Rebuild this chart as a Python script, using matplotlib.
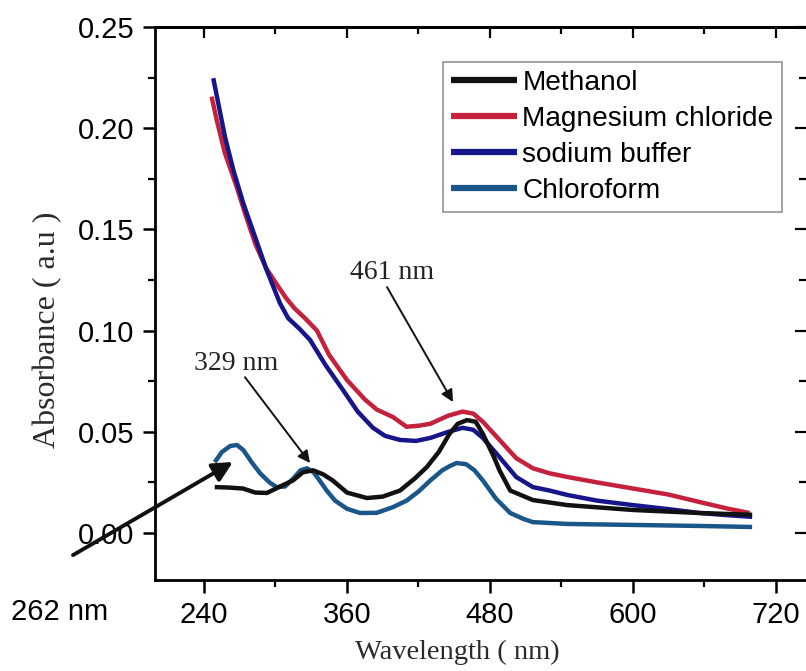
import numpy as np
import matplotlib.pyplot as plt
from matplotlib.ticker import MultipleLocator

# UV-Vis absorbance spectra in four solvents
wl_sodium = [247.8, 252, 257.6, 264.6, 273, 282.8, 292.6, 303.8, 310.7, 320, 329, 342,
             356.6, 369, 381.8, 392, 404.5, 418, 430, 445, 457, 466, 474, 488, 502, 516,
             530, 545, 570, 600, 630, 656, 680, 700]
abs_sodium = [0.2247, 0.2123, 0.1958, 0.1794, 0.1629, 0.1464, 0.1299, 0.1135, 0.1061, 0.101,
              0.0954, 0.083, 0.0707, 0.060, 0.052, 0.048, 0.046, 0.0455, 0.047, 0.050, 0.052,
              0.051, 0.047, 0.0375, 0.0277, 0.0227, 0.021, 0.0188, 0.016, 0.0138, 0.0118,
              0.0099, 0.0088, 0.008]

wl_mgcl = [246.4, 250.7, 257.6, 267.4, 275, 283, 292, 302.4, 309, 316, 325, 334.8, 345,
           360, 375, 385, 398.6, 410, 420, 430, 445, 457, 466, 474, 488, 502, 516, 530,
           545, 570, 600, 630, 656, 680, 698]
abs_mgcl = [0.2156, 0.204, 0.1876, 0.1711, 0.157, 0.143, 0.131, 0.1217, 0.116, 0.111, 0.106,
            0.100, 0.088, 0.0756, 0.066, 0.061, 0.0573, 0.0525, 0.053, 0.054, 0.058, 0.060,
            0.059, 0.055, 0.046, 0.037, 0.032, 0.0295, 0.0277, 0.025, 0.022, 0.019, 0.0153,
            0.012, 0.0099]

wl_methanol = [249, 260, 272.7, 283, 292.8, 304, 314.7, 323, 331.5, 340, 348, 360, 376.8,
               390, 404.5, 417, 427, 437, 446, 453, 460.7, 468, 474, 483, 488, 497, 516,
               545, 600, 656, 700]
abs_methanol = [0.0227, 0.0225, 0.022, 0.020, 0.0198, 0.023, 0.026, 0.030, 0.031, 0.029,
                0.026, 0.020, 0.0173, 0.018, 0.021, 0.027, 0.0326, 0.040, 0.049, 0.054,
                0.0558, 0.055, 0.049, 0.038, 0.031, 0.021, 0.0163, 0.0138, 0.0114, 0.0099,
                0.009]

wl_chloro = [249, 255, 262, 267.7, 273, 280, 287, 295, 301, 308, 315, 321, 326.4, 332, 337,
             343, 350, 360, 371, 385, 398.6, 410, 420, 430, 440, 446, 452, 460, 467, 474,
             485, 497, 508, 516, 545, 600, 656, 700]
abs_chloro = [0.035, 0.040, 0.043, 0.0435, 0.041, 0.035, 0.0296, 0.025, 0.0227, 0.023, 0.027,
              0.031, 0.032, 0.030, 0.026, 0.021, 0.016, 0.012, 0.0099, 0.010, 0.0128, 0.016,
              0.0205, 0.026, 0.031, 0.033, 0.0346, 0.034, 0.031, 0.026, 0.017, 0.0099, 0.007,
              0.0054, 0.0045, 0.004, 0.0035, 0.003]

sans = 'Liberation Sans'
serif = 'Liberation Serif'

fig = plt.figure(figsize=(8.06, 6.71), dpi=100)
ax = fig.add_axes([0.1923, 0.1356, 0.8077, 0.8242])

lw = 3.2
kw = dict(lw=lw, solid_joinstyle='round', solid_capstyle='butt')
ax.plot(wl_methanol, abs_methanol, color='#111111', label='Methanol', zorder=4, **kw)
ax.plot(wl_mgcl, abs_mgcl, color='#c4213c', label='Magnesium chloride', zorder=3, **kw)
ax.plot(wl_sodium, abs_sodium, color='#16168a', label='sodium buffer', zorder=3, **kw)
ax.plot(wl_chloro, abs_chloro, color='#1b5689', label='Chloroform', zorder=3, **kw)

ax.set_xlim(198.9, 745.2)
ax.set_ylim(-0.0232, 0.25)

ax.xaxis.set_major_locator(MultipleLocator(120))
ax.xaxis.set_minor_locator(MultipleLocator(60))
ax.yaxis.set_minor_locator(MultipleLocator(0.025))
ax.set_yticks([0.0, 0.05, 0.10, 0.15, 0.20, 0.25])
ax.set_yticklabels(['0.00', '0.05', '0.10', '0.15', '0.20', '0.25'])

ax.tick_params(axis='both', which='major', labelsize=21, length=9, width=1.8, pad=6,
               direction='out')
ax.tick_params(axis='both', which='minor', length=5, width=1.6, direction='out')
for lab in ax.get_xticklabels() + ax.get_yticklabels():
    lab.set_fontfamily(sans)

for side in ['left', 'bottom', 'top']:
    ax.spines[side].set_linewidth(2)
ax.spines['right'].set_visible(False)

# inward ticks on the top and right edges
top = ax.secondary_xaxis('top')
top.xaxis.set_major_locator(MultipleLocator(120))
top.xaxis.set_minor_locator(MultipleLocator(60))
top.tick_params(which='both', direction='in', labeltop=False, width=1.6)
top.tick_params(which='major', length=8)
top.tick_params(which='minor', length=5)
top.spines['top'].set_linewidth(2)

right = ax.secondary_yaxis('right')
right.yaxis.set_major_locator(MultipleLocator(0.05))
right.yaxis.set_minor_locator(MultipleLocator(0.025))
right.tick_params(which='both', direction='in', labelright=False, width=1.6)
right.tick_params(which='major', length=8)
right.tick_params(which='minor', length=5)
right.spines['right'].set_visible(False)

ax.set_xlabel('Wavelength ( nm)', fontsize=20.5, family=serif, color='#2a2a2a')
ax.xaxis.set_label_coords(0.464, -0.108)
ax.set_ylabel('Absorbance ( a.u )', fontsize=23, family=serif, color='#2a2a2a')
ax.yaxis.set_label_coords(-0.143, 0.452)

leg = ax.legend(loc='upper right', bbox_to_anchor=(0.963, 0.937), borderaxespad=0,
                fancybox=False, frameon=True, handlelength=2.35, handletextpad=0.18,
                labelspacing=0.35, borderpad=0.3, prop={'family': sans, 'size': 20.2})
leg.get_frame().set_edgecolor('#777777')
leg.get_frame().set_linewidth(1.2)
for line in leg.get_lines():
    line.set_linewidth(4.5)

# peak labels
thin = dict(arrowstyle='-|>', color='#111111', lw=1.4, mutation_scale=18,
            shrinkA=0, shrinkB=0)
ax.annotate('', xy=(449, 0.0647), xytext=(393.6, 0.1215), arrowprops=thin)
ax.text(397.8, 0.1285, '461 nm', fontsize=20, family=serif, ha='center', va='center',
        color='#222222')
ax.annotate('', xy=(329, 0.0346), xytext=(274.4, 0.077), arrowprops=thin)
ax.text(266.9, 0.084, '329 nm', fontsize=20, family=serif, ha='center', va='center',
        color='#222222')

thick = dict(arrowstyle='-|>', color='#111111', lw=2.8, mutation_scale=30,
             shrinkA=0, shrinkB=0)
ax.annotate('', xy=(264.3, 0.0351), xytext=(130.1, -0.0109), arrowprops=thick,
            annotation_clip=False)
ax.text(119.2, -0.039, '262 nm', fontsize=21, family=sans, ha='center', va='center',
        clip_on=False)

fig.savefig('out.png', dpi=100)
